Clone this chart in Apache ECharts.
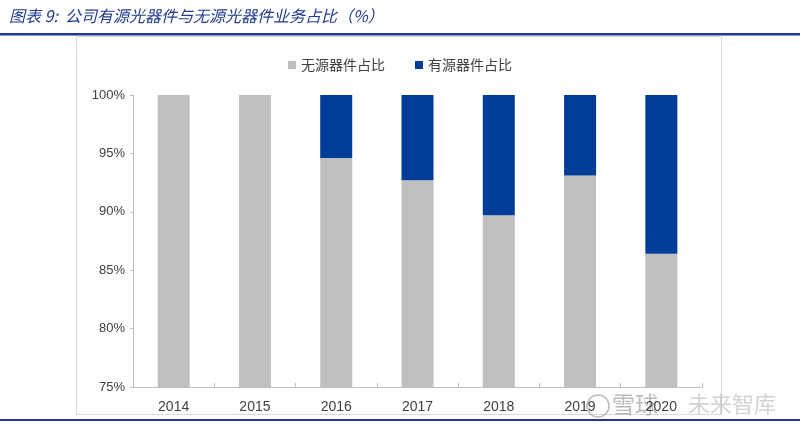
<!DOCTYPE html>
<html><head><meta charset="utf-8">
<script src="https://cdn.jsdelivr.net/npm/echarts@6/dist/echarts.min.js"></script>
<style>html,body{margin:0;padding:0;background:#fff}#c{width:800px;height:431px}</style>
</head><body><div id="c"></div>
<script>
const categories = ['2014','2015','2016','2017','2018','2019','2020'];
const passive = [100, 100, 94.6, 92.7, 89.7, 93.1, 86.4];
const active = [0, 0, 5.4, 7.3, 10.3, 6.9, 13.6];
const yTicks = [75, 80, 85, 90, 95, 100];

const chart = echarts.init(document.getElementById('c'), null, {renderer:'canvas'});
chart.setOption({
  animation:false,
  graphic:[
    {type:'text', left:9, top:8, style:{text:'图表 9:  公司有源光器件与无源光器件业务占比（%）', font:'italic 16px "Noto Sans CJK SC"', fill:'#1f3a8f'}},
    {type:'rect', shape:{x:0,y:33,width:800,height:2.5}, style:{fill:'#1f3a99'}},
    {type:'rect', shape:{x:76.5,y:36.5,width:645,height:378}, style:{fill:'none', stroke:'#d9d9d9', lineWidth:1}},
    {type:'rect', shape:{x:0,y:419,width:800,height:2}, style:{fill:'#1f3a99'}},
    {type:'circle', shape:{cx:598,cy:406,r:11}, style:{fill:'none', stroke:'rgba(160,160,160,0.7)', lineWidth:1.5}},
    {type:'text', left:612, top:393, style:{text:'雪球', font:'23px "Noto Sans CJK SC"', fill:'rgba(150,150,150,0.65)'}},
    {type:'text', left:688, top:393, style:{text:'未来智库', font:'22px "Noto Sans CJK SC"', fill:'rgba(180,180,180,0.6)'}}
  ],
  legend:{
    top:53, left:'center', itemWidth:8, itemHeight:8, itemGap:30,
    textStyle:{fontSize:14, color:'#404040', fontFamily:'"Noto Sans CJK SC"'},
    data:[{name:'无源器件占比', icon:'rect'},{name:'有源器件占比', icon:'rect'}]
  },
  grid:{left:133, right:98, top:95, bottom:44},
  xAxis:{
    type:'category', data:categories,
    axisLine:{lineStyle:{color:'#bfbfbf'}},
    axisTick:{show:true, length:4, inside:true, lineStyle:{color:'#bfbfbf'}},
    axisLabel:{color:'#404040', fontSize:14, margin:13, fontFamily:'"Liberation Sans", Arial'}
  },
  yAxis:{
    type:'value', min:yTicks[0], max:yTicks[yTicks.length-1], interval:5,
    axisLine:{show:true, lineStyle:{color:'#bfbfbf'}},
    axisTick:{show:true, length:3, lineStyle:{color:'#bfbfbf'}},
    splitLine:{show:false},
    axisLabel:{color:'#404040', fontSize:13, margin:8, formatter:'{value}%', fontFamily:'"Liberation Sans", Arial'}
  },
  series:[
    {name:'无源器件占比', type:'bar', stack:'s', data:passive, barWidth:32, itemStyle:{color:'#bfbfbf'}},
    {name:'有源器件占比', type:'bar', stack:'s', data:active, barWidth:32, itemStyle:{color:'#003d99'}}
  ]
});
</script></body></html>
